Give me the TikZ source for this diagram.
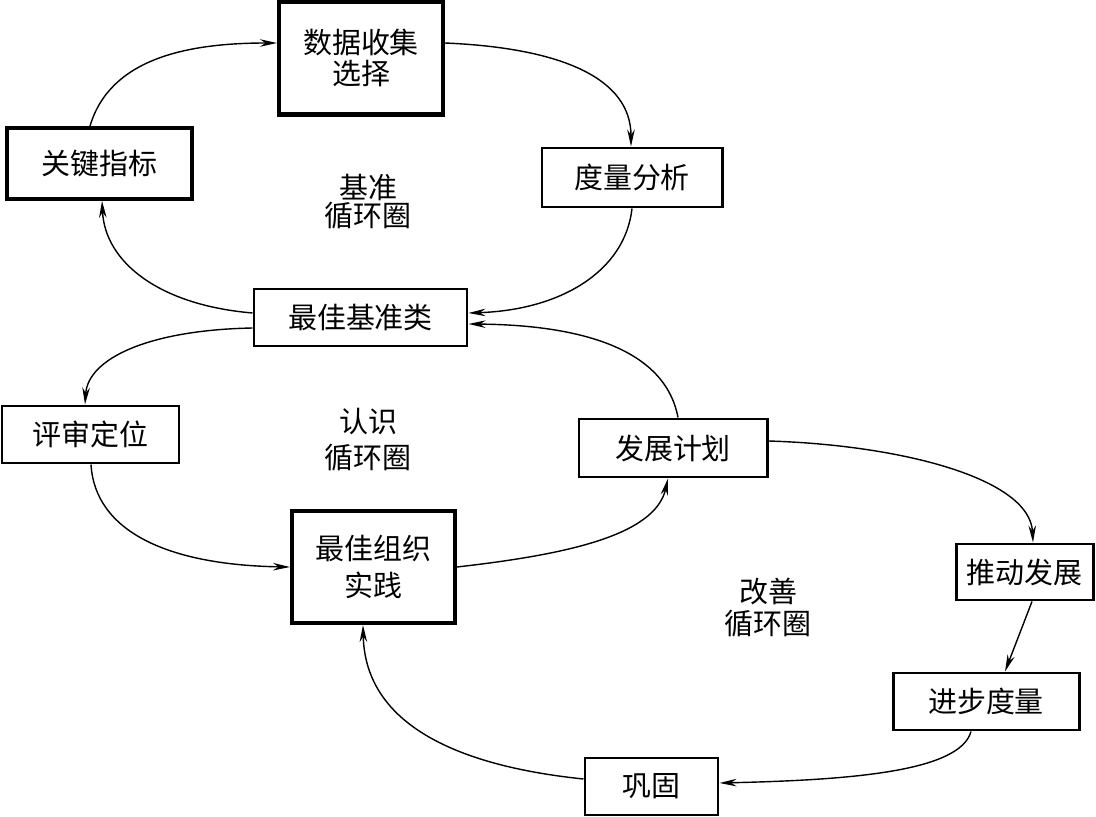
\documentclass[tikz,border=0pt]{standalone}
\usepackage{fontspec}
\newfontfamily\cjk{Noto Sans CJK SC}
\usetikzlibrary{arrows.meta,calc}
\begin{document}
\begin{tikzpicture}[x=0.02cm,y=-0.02cm,
  box/.style={draw,line width=1.7pt,inner sep=0pt,align=center,
    font=\cjk\fontsize{16.5}{19}\selectfont},
  thickbox/.style={box,line width=2.3pt},
  lbl/.style={inner sep=0pt,align=center},
  conn/.style={line width=0.8pt,-{Stealth[length=3.4mm,width=1.5mm,inset=1.1mm]}}]
\useasboundingbox (0,0) rectangle (1096,817);
% boxes
\node[thickbox,minimum width=164*0.02cm,minimum height=113*0.02cm,
      font=\cjk\fontsize{16.5}{17.5}\selectfont] (sj) at (361,58) {数据收集\\选择};
\node[box,line width=2.1pt,minimum width=185*0.02cm,minimum height=71*0.02cm] (kz) at (99.5,163.5) {关键指标};
\node[box,minimum width=180*0.02cm,minimum height=59*0.02cm] (dl) at (632,177.5) {度量分析};
\node[box,minimum width=213*0.02cm,minimum height=57*0.02cm] (zj) at (360.5,317.5) {最佳基准类};
\node[box,minimum width=177*0.02cm,minimum height=57*0.02cm] (ps) at (90.5,434.5) {评审定位};
\node[box,minimum width=188*0.02cm,minimum height=58*0.02cm] (fz) at (673,448) {发展计划};
\node[thickbox,minimum width=163*0.02cm,minimum height=112*0.02cm,
      font=\cjk\fontsize{16.5}{21}\selectfont] (zz) at (373.5,567) {最佳组织\\实践};
\node[box,minimum width=137*0.02cm,minimum height=56*0.02cm] (td) at (1024.5,572) {推动发展};
\node[box,minimum width=186*0.02cm,minimum height=57*0.02cm] (jb) at (986,701.5) {进步度量};
\node[box,minimum width=133*0.02cm,minimum height=57*0.02cm] (gg) at (651.5,786.5) {巩固};
% loop labels
\node[lbl,font=\cjk\fontsize{16.5}{16}\selectfont] (l1) at (368,202) {基准\\循环圈};
\node[lbl,font=\cjk\fontsize{16.5}{20.4}\selectfont] (l2) at (368,440) {认识\\循环圈};
\node[lbl,font=\cjk\fontsize{16.5}{18.7}\selectfont] (l3) at (768,607.5) {改善\\循环圈};
% connectors
\draw[conn] ($(kz.north)+(-9.5,0)$) .. controls +(20,-68) and +(-89,0) .. ($(sj.west)+(0,-15)$);
\draw[conn] ($(sj.east)+(0,-15)$) .. controls +(117,5) and +(0,-68) .. ($(dl.north)+(-1,0)$);
\draw[conn] (dl.south) .. controls +(-7,63) and +(92,-3) .. ($(zj.east)+(0,-4.5)$);
\draw[conn] ($(zj.west)+(0,-4.5)$) .. controls +(-94,-8) and +(3,61) .. ($(kz.south)+(2.5,0)$);
\draw[conn] ($(zj.west)+(0,10.5)$) .. controls +(-104,2) and +(3,-46) .. ($(ps.north)+(-5.5,0)$);
\draw[conn] ($(ps.south)+(0.5,0)$) .. controls +(4,67) and +(-122,-2) .. (zz.west);
\draw[conn] (zz.east) .. controls +(105,-12) and +(-13,58) .. ($(fz.south)+(-5,0)$);
\draw[conn] ($(fz.north)+(5,0)$) .. controls +(-13,-69) and +(112,1) .. ($(zj.east)+(0,6.5)$);
\draw[conn] ($(fz.east)+(0,-7)$) .. controls +(133,4) and +(-3,-64) .. ($(td.north)+(8.5,0)$);
\draw[conn] ($(td.south)+(7.5,0)$) -- ($(jb.north)+(19,0)$);
\draw[conn] ($(jb.south)+(-15,0)$) .. controls +(-11,40) and +(132,-3) .. ($(gg.east)+(0,-3.5)$);
\draw[conn] ($(gg.west)+(0,-7.5)$) .. controls +(-135,-14) and +(2,95) .. ($(zz.south)+(-10.5,0)$);
\end{tikzpicture}
\end{document}
